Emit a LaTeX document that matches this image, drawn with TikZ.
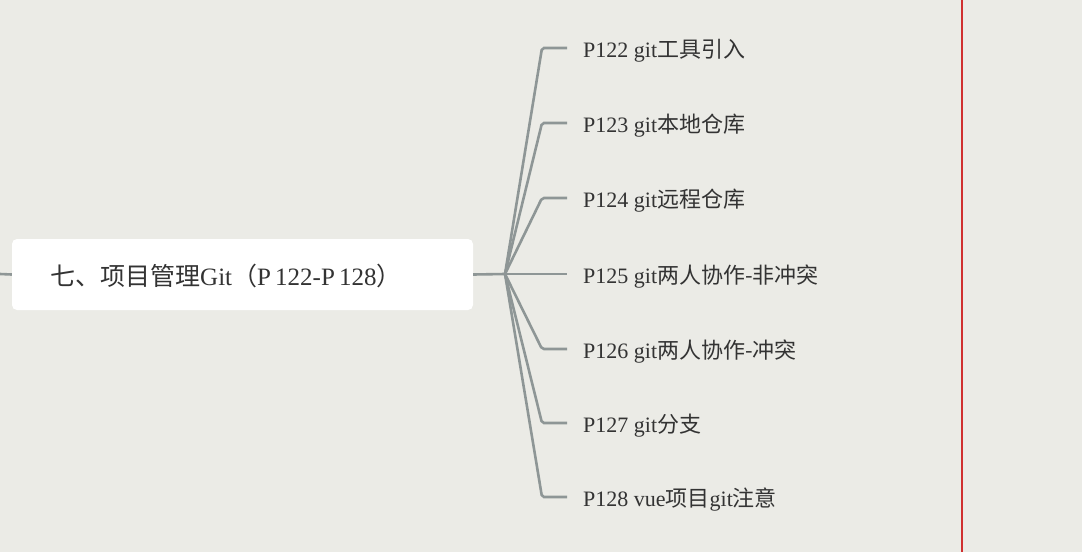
\documentclass[tikz,border=0pt]{standalone}
\usepackage{fontspec}
\setmainfont{Liberation Serif}
\newfontfamily\cjk{Noto Sans CJK SC}
\begin{document}
\begin{tikzpicture}[x=1pt,y=-1pt,
  conn/.style={draw=linegray,line width=2.6pt,rounded corners=2pt},
  leaf/.style={anchor=west,inner sep=0pt,font=\fontsize{22}{25}\selectfont,text=txt}]
\definecolor{bgc}{HTML}{EBEBE6}
\definecolor{linegray}{HTML}{8E9696}
\definecolor{txt}{HTML}{333333}
\definecolor{redl}{HTML}{D03030}
\fill[bgc] (0,0) rectangle (1082,552);
\useasboundingbox (0,0) rectangle (1082,552);
\draw[redl,line width=1.2pt] (962,0) -- (962,552);
\node[fill=white,rounded corners=5pt,minimum width=461pt,minimum height=71pt,inner sep=0pt] (root) at (242.5,274.5) {};
\node[anchor=west,inner sep=0pt,font=\fontsize{25}{29}\selectfont,text=txt] at (50,276) {{\cjk 七、项目管理}Git{\cjk （}P\,122-P\,128{\cjk ）}};
\coordinate (L) at (0,274);
\draw[conn] (L) -- (root.west);
\coordinate (F) at (505,274);
\draw[conn] (root.east) -- (F);
\foreach \i/\y/\t in {a/48/{P122 git{\cjk 工具引入}},b/123/{P123 git{\cjk 本地仓库}},c/198/{P124 git{\cjk 远程仓库}},d/274/{P125 git{\cjk 两人协作-非冲突}},e/349/{P126 git{\cjk 两人协作-冲突}},f/423/{P127 git{\cjk 分支}},g/497/{P128 vue{\cjk 项目}git{\cjk 注意}}}{
  \node[leaf] (\i) at (583,\y+3) {\t};
  \coordinate (c\i) at (542,\y);
  \coordinate (e\i) at (567,\y);
  \draw[conn] (F) -- (c\i) -- (e\i);
}
\end{tikzpicture}
\end{document}
